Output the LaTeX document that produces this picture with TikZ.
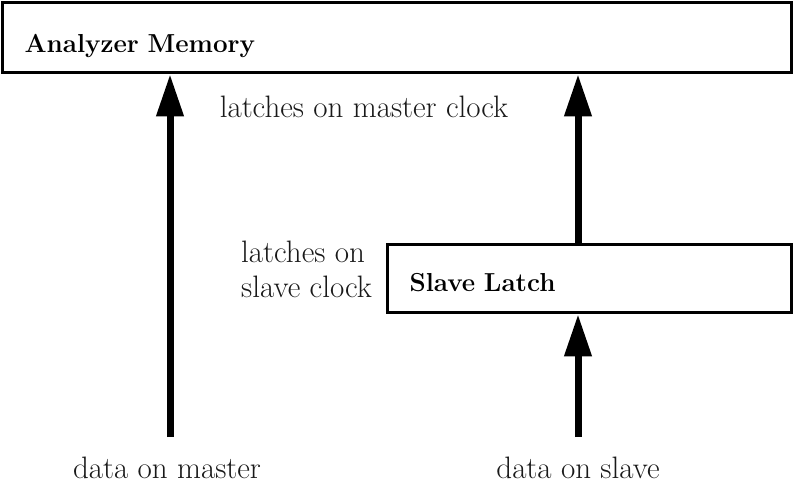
\documentclass[tikz,border=0pt]{standalone}
\usetikzlibrary{arrows.meta}
\begin{document}
\begin{tikzpicture}[x=1pt, y=1pt, >={Triangle[width=26pt, length=42pt]},
        every node/.style={font=\fontsize{31}{35}\selectfont, text=black!90},
        box/.style={draw, line width=3.5pt, inner xsep=22pt, align=left, text depth=0pt, text=black, font=\fontsize{26}{30}\selectfont\bfseries},
        flow/.style={->, line width=7pt}]
        \useasboundingbox (0,0) rectangle (796,-485);
        \node[box, minimum width=789pt, minimum height=70pt, text width=745pt, text height=29pt] (mem) at (397,-37.5) {Analyzer Memory};
        \node[box, minimum width=404pt, minimum height=68pt, text width=360pt, text height=25pt] (slave) at (589.5,-278.5) {Slave Latch};
        \coordinate (mfoot) at (170,-437);
        \coordinate (sfoot) at (578,-437);
        \node[anchor=base] (mclock) at (364,-117) {latches on master clock};
        \node[anchor=north west, align=left, inner sep=0pt] (sclock) at (241,-241) {latches on\\slave clock};
        \node[anchor=base] (master) at (167,-478) {data on master};
        \node[anchor=base] (slavein) at (578,-478) {data on slave};
        \draw[flow] (mfoot) -- (mfoot |- mem.south);
        \draw[flow] (sfoot |- slave.north) -- (sfoot |- mem.south);
        \draw[flow] (sfoot) -- (sfoot |- slave.south);
    \end{tikzpicture}
\end{document}
